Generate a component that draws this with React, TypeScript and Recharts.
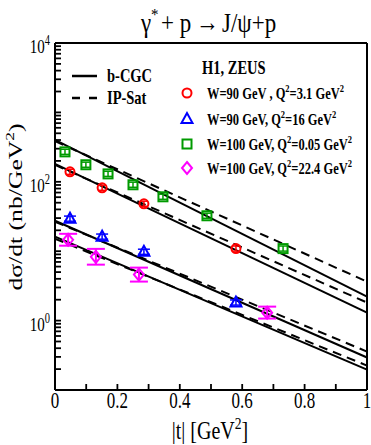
import { ComposedChart, Line, Scatter, XAxis, YAxis, ErrorBar } from "recharts";

const FONT = "'Liberation Serif', 'Times New Roman', serif";
const SY = 1.3; // the source figure is stretched vertically

// ticks
const X_TICKS = [0, 0.1, 0.2, 0.3, 0.4, 0.5, 0.6, 0.7, 0.8, 0.9, 1];
const X_LABELS = [0, 0.2, 0.4, 0.6, 0.8, 1];
const Y_MAJOR = [0.1, 1, 10, 100, 1000, 10000];
const Y_LABELS = [1, 100, 10000];
const Y_MINOR = [
  0.2, 0.3, 0.4, 0.5, 0.6, 0.7, 0.8, 0.9,
  2, 3, 4, 5, 6, 7, 8, 9,
  20, 30, 40, 50, 60, 70, 80, 90,
  200, 300, 400, 500, 600, 700, 800, 900,
  2000, 3000, 4000, 5000, 6000, 7000, 8000, 9000,
];
const Y_TICKS = [...Y_MAJOR, ...Y_MINOR];

// model curves (read at |t| = 0 and 1)
const T_LINE = [0, 1];
const CGC_Q005 = [402, 2.21];
const IPSAT_Q005 = [385, 3.64];
const CGC_Q31 = [181, 1.3];
const IPSAT_Q31 = [175, 1.82];
const CGC_Q16 = [27.5, 0.294];
const IPSAT_Q16 = [26.6, 0.358];
const CGC_Q224 = [16.2, 0.197];
const IPSAT_Q224 = [15.1, 0.225];

// H1 / ZEUS data
const T_Q005 = [0.032, 0.099, 0.17, 0.25, 0.346, 0.487, 0.731];
const V_Q005 = [270, 176, 130, 90.6, 60.8, 32.4, 10.9];
const T_Q31 = [0.048, 0.151, 0.285, 0.58];
const V_Q31 = [139, 82, 48.2, 10.9];
const T_Q16 = [0.048, 0.151, 0.285, 0.58];
const V_Q16 = [29.4, 16.2, 9.8, 1.82];
const T_Q224 = [0.042, 0.131, 0.269, 0.68];
const V_Q224 = [14.6, 8.3, 4.6, 1.3];
const LO_Q224 = [2.6, 1.9, 0.95, 0.23];
const HI_Q224 = [3.2, 2.5, 1.2, 0.29];

const RED = "#ff0000";
const BLUE = "#0000ff";
const GREEN = "#009a00";
const MAGENTA = "#ff00ff";

const Y_MIN = 0.1;
const Y_MAX = 10000;
const TICK = 6; // inward tick length, px

const line = (vals: number[]) => T_LINE.map((t, i) => ({ t, v: vals[i] }));
const pts = (ts: number[], vs: number[], lo?: number[], hi?: number[]) =>
  ts.map((t, i) => ({
    t,
    v: vs[i],
    err: lo && hi ? [lo[i], hi[i]] : [vs[i] * 0.08, vs[i] * 0.09],
  }));

type Kind = "circle" | "triangle" | "square" | "diamond";

function Marker({ kind, cx, cy, color }: { kind: Kind; cx: number; cy: number; color: string }) {
  const common = { fill: "none", stroke: color, strokeWidth: 2 };
  if (kind === "circle") return <circle cx={cx} cy={cy} r={4.5} {...common} />;
  if (kind === "square") return <rect x={cx - 4.5} y={cy - 4.5} width={9} height={9} {...common} />;
  if (kind === "triangle")
    return <polygon points={`${cx},${cy - 6} ${cx - 5.5},${cy + 4} ${cx + 5.5},${cy + 4}`} {...common} />;
  return <polygon points={`${cx},${cy - 6} ${cx + 5},${cy} ${cx},${cy + 6} ${cx - 5},${cy}`} {...common} />;
}

function SText({ x, y, size, anchor = "start", bold = false, sy = SY, children }: any) {
  return (
    <text
      transform={`translate(${x} ${y}) scale(1 ${sy})`}
      fontSize={size}
      fontFamily={FONT}
      fontWeight={bold ? "bold" : "normal"}
      textAnchor={anchor}
      fill="#000"
    >
      {children}
    </text>
  );
}

const Sup = ({ size, text, after }: { size: number; text: string; after?: string }) => (
  <>
    <tspan dy={-size * 0.42} fontSize={size * 0.68}>{text}</tspan>
    {after !== undefined && <tspan dy={size * 0.42}>{after}</tspan>}
  </>
);

// labels; tick lines are recharts' own, pointing inward (negative tickSize),
// so (x, y) arrives TICK px inside the frame
function BottomLabel({ x, y, payload }: any) {
  if (!X_LABELS.includes(payload.value)) return <g />;
  return (
    <SText x={x} y={y + TICK + 18} size={17} anchor="middle">
      {String(payload.value)}
    </SText>
  );
}

function LeftLabel({ x, y, payload }: any) {
  if (!Y_LABELS.includes(payload.value)) return <g />;
  const exp = Math.round(Math.log10(payload.value));
  return (
    <SText x={x - TICK - 5} y={y + 10} size={15} anchor="end">
      10
      <tspan dy={-6} fontSize={10.5}>{exp}</tspan>
    </SText>
  );
}

const shape = (kind: Kind, color: string) => (p: any) => <Marker kind={kind} cx={p.cx} cy={p.cy} color={color} />;

const LEGEND: { kind: Kind; color: string; w: string; q: string; y: number }[] = [
  { kind: "circle", color: RED, w: "W=90 GeV , Q", q: "=3.1 GeV", y: 93 },
  { kind: "triangle", color: BLUE, w: "W=90 GeV, Q", q: "=16 GeV", y: 119 },
  { kind: "square", color: GREEN, w: "W=100 GeV, Q", q: "=0.05 GeV", y: 144 },
  { kind: "diamond", color: MAGENTA, w: "W=100 GeV, Q", q: "=22.4 GeV", y: 168 },
];

const frame = { stroke: "#000", strokeWidth: 2 };
const tickLine = { stroke: "#000", strokeWidth: 1.8 };

export default function App() {
  return (
    <div style={{ position: "absolute", left: 0, top: 0, width: 371, height: 445, background: "#fff" }}>
      <ComposedChart width={371} height={445} margin={{ top: 42, right: 3, bottom: 0, left: 0 }}>
        <XAxis
          dataKey="t"
          type="number"
          domain={[0, 1]}
          ticks={X_TICKS}
          interval={0}
          height={55}
          stroke="#000"
          tickSize={-TICK}
          tickMargin={0}
          tickLine={tickLine}
          tick={BottomLabel}
          axisLine={frame}
        />
        <XAxis
          xAxisId="top"
          orientation="top"
          type="number"
          domain={[0, 1]}
          ticks={X_TICKS}
          interval={0}
          height={1}
          stroke="#000"
          tickSize={-TICK}
          tickLine={tickLine}
          tick={false}
          axisLine={frame}
        />
        <YAxis
          dataKey="v"
          type="number"
          scale="log"
          domain={[Y_MIN, Y_MAX]}
          ticks={Y_TICKS}
          interval={0}
          width={55}
          stroke="#000"
          tickSize={-TICK}
          tickMargin={0}
          tickLine={tickLine}
          tick={LeftLabel}
          axisLine={frame}
        />
        <YAxis
          yAxisId="right"
          orientation="right"
          type="number"
          scale="log"
          domain={[Y_MIN, Y_MAX]}
          ticks={Y_TICKS}
          interval={0}
          width={1}
          stroke="#000"
          tickSize={-TICK}
          tickLine={tickLine}
          tick={false}
          axisLine={frame}
        />

        {[CGC_Q005, CGC_Q31, CGC_Q16, CGC_Q224].map((vals, i) => (
          <Line key={`cgc${i}`} data={line(vals)} dataKey="v" stroke="#000" strokeWidth={2} dot={false} isAnimationActive={false} />
        ))}
        {[IPSAT_Q005, IPSAT_Q31, IPSAT_Q16, IPSAT_Q224].map((vals, i) => (
          <Line key={`ips${i}`} data={line(vals)} dataKey="v" stroke="#000" strokeWidth={2} strokeDasharray="9 6" dot={false} isAnimationActive={false} />
        ))}

        <Scatter data={pts(T_Q005, V_Q005)} dataKey="v" shape={shape("square", GREEN)} isAnimationActive={false}>
          <ErrorBar dataKey="err" direction="y" width={4} stroke={GREEN} strokeWidth={1.5} />
        </Scatter>
        <Scatter data={pts(T_Q31, V_Q31)} dataKey="v" shape={shape("circle", RED)} isAnimationActive={false}>
          <ErrorBar dataKey="err" direction="y" width={4} stroke={RED} strokeWidth={1.5} />
        </Scatter>
        <Scatter data={pts(T_Q16, V_Q16)} dataKey="v" shape={shape("triangle", BLUE)} isAnimationActive={false}>
          <ErrorBar dataKey="err" direction="y" width={6} stroke={BLUE} strokeWidth={1.5} />
        </Scatter>
        <Scatter data={pts(T_Q224, V_Q224, LO_Q224, HI_Q224)} dataKey="v" shape={shape("diamond", MAGENTA)} isAnimationActive={false}>
          <ErrorBar dataKey="err" direction="y" width={9} stroke={MAGENTA} strokeWidth={2} />
        </Scatter>
      </ComposedChart>

      <svg width={371} height={445} style={{ position: "absolute", left: 0, top: 0, pointerEvents: "none" }}>
        {/* title */}
        <SText x={141} y={32} size={23} sy={1.15}>γ</SText>
        <SText x={151} y={20} size={15} sy={1.15}>*</SText>
        <SText x={161} y={32} size={23} sy={1.15}>+ p</SText>
        <SText x={196} y={31} size={23} sy={1.15} bold>→</SText>
        <SText x={222} y={32} size={23} sy={1.15}>J/ψ+p</SText>

        {/* axis titles */}
        <text transform="translate(22 207) rotate(-90) scale(1.35 1)" fontSize={19} fontFamily={FONT} textAnchor="middle">
          dσ/dt (nb/GeV
          <Sup size={19} text="2" after=")" />
        </text>
        <SText x={210} y={439} size={20} anchor="middle" sy={1.25}>
          |t| [GeV
          <Sup size={20} text="2" after="]" />
        </SText>

        {/* model legend */}
        <line x1={72} x2={97} y1={76} y2={76} stroke="#000" strokeWidth={2.5} />
        <SText x={107} y={82} size={14.5} bold>b-CGC</SText>
        <line x1={72} x2={97} y1={98} y2={98} stroke="#000" strokeWidth={2.5} strokeDasharray="8 9" />
        <SText x={107} y={104} size={14.5} bold>IP-Sat</SText>

        {/* data legend */}
        <SText x={202} y={74} size={14.5} bold>H1, ZEUS</SText>
        {LEGEND.map((e) => (
          <g key={e.w + e.q}>
            <Marker kind={e.kind} cx={187} cy={e.y} color={e.color} />
            <SText x={207} y={e.y + 5.5} size={12.5} bold>
              {e.w}
              <Sup size={12.5} text="2" after={e.q} />
              <Sup size={12.5} text="2" />
            </SText>
          </g>
        ))}
      </svg>
    </div>
  );
}
